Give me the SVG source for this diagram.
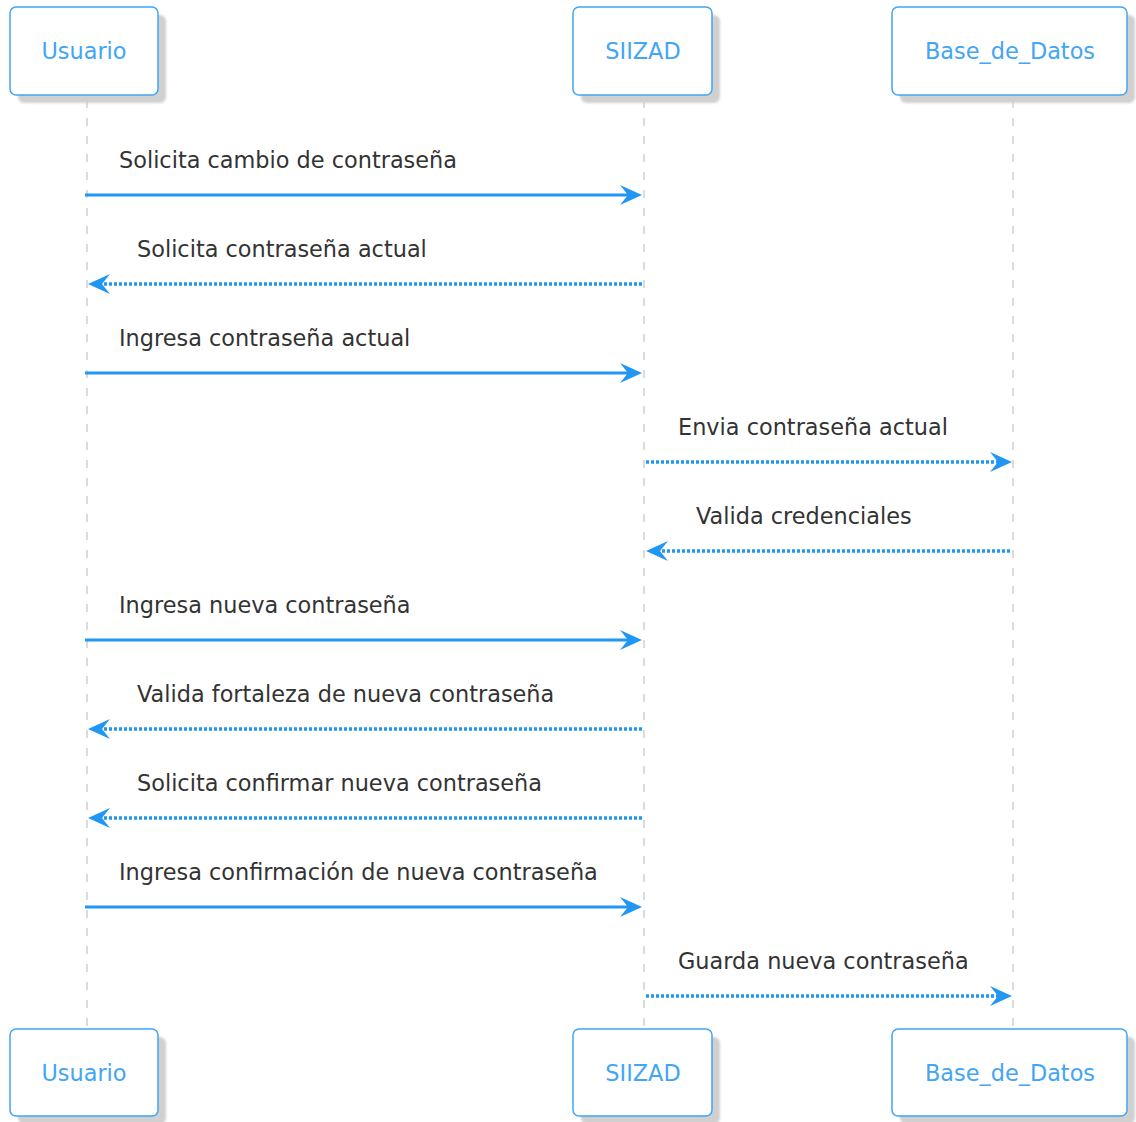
<svg xmlns="http://www.w3.org/2000/svg" width="1136" height="1122" viewBox="0 0 1136 1122">
  <style>
    .box { fill: #ffffff; stroke: #42a5f5; stroke-width: 1.5; }
    .shadow { fill: #d0d0d0; }
    .name { font-family: "DejaVu Sans", sans-serif; font-size: 22.4px; fill: #42a5f5; text-anchor: middle; }
    .life { stroke: #c4c4c4; stroke-width: 1.2; stroke-dasharray: 8,10; fill: none; }
    .msg { stroke: #2196f3; stroke-width: 3; fill: none; }
    .dot { stroke: #2196f3; stroke-width: 3.5; stroke-dasharray: 3,2; fill: none; }
    .head { fill: #2196f3; }
    .lbl { font-family: "DejaVu Sans", sans-serif; font-size: 22.4px; fill: #333333; }
  </style>
  <defs>
    <filter id="soft" x="-10%" y="-10%" width="120%" height="120%">
      <feGaussianBlur stdDeviation="1"/>
    </filter>
    <path id="hr" class="head" d="M0,0 L-22,-10 L-14,0 L-22,10 Z"/>
    <path id="hl" class="head" d="M0,0 L22,-10 L14,0 L22,10 Z"/>
  </defs>
  <rect width="1136" height="1122" fill="#ffffff"/>

  <!-- lifelines -->
  <g id="lifelines">
    <line class="life" x1="87" y1="100" x2="87" y2="1029"/>
    <line class="life" x1="644" y1="100" x2="644" y2="1029"/>
    <line class="life" x1="1013" y1="100" x2="1013" y2="1029"/>
  </g>

  <!-- participants, top -->
  <g id="usuario-top">
    <rect class="shadow" x="18" y="15" width="148" height="88" rx="6" filter="url(#soft)"/>
    <rect class="box" x="10" y="7" width="148" height="88" rx="6"/>
    <text class="name" x="84" y="59">Usuario</text>
  </g>
  <g id="siizad-top">
    <rect class="shadow" x="581" y="15" width="139" height="88" rx="6" filter="url(#soft)"/>
    <rect class="box" x="573" y="7" width="139" height="88" rx="6"/>
    <text class="name" x="643" y="59">SIIZAD</text>
  </g>
  <g id="base-top">
    <rect class="shadow" x="900" y="15" width="235" height="88" rx="6" filter="url(#soft)"/>
    <rect class="box" x="892" y="7" width="235" height="88" rx="6"/>
    <text class="name" x="1010" y="59">Base_de_Datos</text>
  </g>

  <!-- participants, bottom -->
  <g id="usuario-bottom">
    <rect class="shadow" x="18" y="1037" width="148" height="87" rx="6" filter="url(#soft)"/>
    <rect class="box" x="10" y="1029" width="148" height="87" rx="6"/>
    <text class="name" x="84" y="1081">Usuario</text>
  </g>
  <g id="siizad-bottom">
    <rect class="shadow" x="581" y="1037" width="139" height="87" rx="6" filter="url(#soft)"/>
    <rect class="box" x="573" y="1029" width="139" height="87" rx="6"/>
    <text class="name" x="643" y="1081">SIIZAD</text>
  </g>
  <g id="base-bottom">
    <rect class="shadow" x="900" y="1037" width="235" height="87" rx="6" filter="url(#soft)"/>
    <rect class="box" x="892" y="1029" width="235" height="87" rx="6"/>
    <text class="name" x="1010" y="1081">Base_de_Datos</text>
  </g>

  <!-- messages -->
  <g id="connectors">
    <line class="msg" x1="85" y1="195" x2="630" y2="195"/>
    <use href="#hr" x="642" y="195"/>
    <text class="lbl" x="119" y="168">Solicita cambio de contraseña</text>

    <line class="dot" x1="642" y1="284" x2="101" y2="284"/>
    <use href="#hl" x="88" y="284"/>
    <text class="lbl" x="137" y="257">Solicita contraseña actual</text>

    <line class="msg" x1="85" y1="373" x2="630" y2="373"/>
    <use href="#hr" x="642" y="373"/>
    <text class="lbl" x="119" y="346">Ingresa contraseña actual</text>

    <line class="dot" x1="646" y1="462" x2="999" y2="462"/>
    <use href="#hr" x="1012" y="462"/>
    <text class="lbl" x="678" y="435">Envia contraseña actual</text>

    <line class="dot" x1="1010" y1="551" x2="660" y2="551"/>
    <use href="#hl" x="646" y="551"/>
    <text class="lbl" x="696" y="524">Valida credenciales</text>

    <line class="msg" x1="85" y1="640" x2="630" y2="640"/>
    <use href="#hr" x="642" y="640"/>
    <text class="lbl" x="119" y="613">Ingresa nueva contraseña</text>

    <line class="dot" x1="642" y1="729" x2="101" y2="729"/>
    <use href="#hl" x="88" y="729"/>
    <text class="lbl" x="137" y="702">Valida fortaleza de nueva contraseña</text>

    <line class="dot" x1="642" y1="818" x2="101" y2="818"/>
    <use href="#hl" x="88" y="818"/>
    <text class="lbl" x="137" y="791">Solicita confirmar nueva contraseña</text>

    <line class="msg" x1="85" y1="907" x2="630" y2="907"/>
    <use href="#hr" x="642" y="907"/>
    <text class="lbl" x="119" y="880">Ingresa confirmación de nueva contraseña</text>

    <line class="dot" x1="646" y1="996" x2="999" y2="996"/>
    <use href="#hr" x="1012" y="996"/>
    <text class="lbl" x="678" y="969">Guarda nueva contraseña</text>
  </g>
</svg>
